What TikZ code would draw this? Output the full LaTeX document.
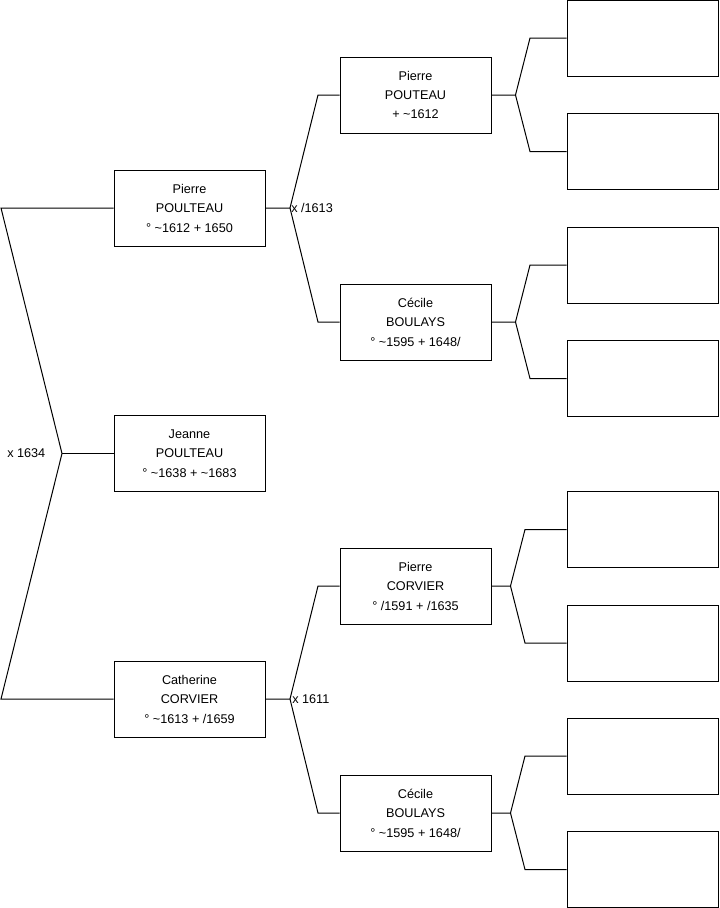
\documentclass[tikz,border=0pt]{standalone}
\usepackage{fontspec}
\setmainfont{Liberation Sans}
\newcommand{\tl}{\textasciitilde}
\begin{document}
\begin{tikzpicture}[x=0.75pt,y=-0.75pt,
  person/.style={draw=black,line width=0.75pt,rectangle,minimum width=113.25pt,minimum height=57pt,inner sep=0pt,align=center,font=\fontsize{9.5pt}{14.6pt}\selectfont},
  link/.style={draw=black,line width=0.75pt},
  mlabel/.style={anchor=west,inner sep=0pt,font=\fontsize{9.5pt}{11pt}\selectfont}]
\useasboundingbox (0,0) rectangle (719,908);
% generation 1 and 2
\node[person] (pp) at (189.5,208) {Pierre\\POULTEAU\\° \tl1612 + 1650};
\node[person] (jp) at (189.5,453.5) {Jeanne\\POULTEAU\\° \tl1638 + \tl1683};
\node[person] (cc) at (189.5,699) {Catherine\\CORVIER\\° \tl1613 + /1659};
% generation 3
\node[person] (ppou) at (415.5,95) {Pierre\\POUTEAU\\+ \tl1612};
\node[person] (cb1) at (415.5,322) {Cécile\\BOULAYS\\° \tl1595 + 1648/};
\node[person] (pc) at (415.5,586) {Pierre\\CORVIER\\° /1591 + /1635};
\node[person] (cb2) at (415.5,813) {Cécile\\BOULAYS\\° \tl1595 + 1648/};
% generation 4 (empty)
\node[person] (e1) at (642.5,38) {};
\node[person] (e2) at (642.5,151.5) {};
\node[person] (e3) at (642.5,265) {};
\node[person] (e4) at (642.5,378.5) {};
\node[person] (e5) at (642.5,529.5) {};
\node[person] (e6) at (642.5,643) {};
\node[person] (e7) at (642.5,756) {};
\node[person] (e8) at (642.5,869.5) {};
% left bracket
\coordinate (L1) at (1,208);
\coordinate (L2) at (1,699);
\coordinate (b0) at (62,453.5);
\draw[link] (pp.west) -- (L1) -- (b0) -- (L2) -- (cc.west);
\draw[link] (b0) -- (jp.west);
\node[mlabel] (m0) at (7,453) {x 1634};
% Pierre POULTEAU parents
\coordinate (b1) at (290,208);
\coordinate (b1u) at (318,95);
\coordinate (b1d) at (318,322);
\draw[link] (pp.east) -- (b1) -- (b1u) -- (ppou.west);
\draw[link] (b1) -- (b1d) -- (cb1.west);
\node[mlabel] (m1) at (291,208) {x /1613};
% Catherine parents
\coordinate (b2) at (290,699);
\coordinate (b2u) at (318,586);
\coordinate (b2d) at (318,813);
\draw[link] (cc.east) -- (b2) -- (b2u) -- (pc.west);
\draw[link] (b2) -- (b2d) -- (cb2.west);
\node[mlabel] (m2) at (292,699) {x 1611};
% generation 3 to 4
\coordinate (c1) at (515.5,95);
\coordinate (c1u) at (530,38);
\coordinate (c1d) at (530,151.5);
\draw[link] (ppou.east) -- (c1) -- (c1u) -- (e1.west);
\draw[link] (c1) -- (c1d) -- (e2.west);
\coordinate (c2) at (515.5,322);
\coordinate (c2u) at (530,265);
\coordinate (c2d) at (530,378.5);
\draw[link] (cb1.east) -- (c2) -- (c2u) -- (e3.west);
\draw[link] (c2) -- (c2d) -- (e4.west);
\coordinate (c3) at (510.5,586);
\coordinate (c3u) at (525,529.5);
\coordinate (c3d) at (525,643);
\draw[link] (pc.east) -- (c3) -- (c3u) -- (e5.west);
\draw[link] (c3) -- (c3d) -- (e6.west);
\coordinate (c4) at (510.5,813);
\coordinate (c4u) at (525,756);
\coordinate (c4d) at (525,869.5);
\draw[link] (cb2.east) -- (c4) -- (c4u) -- (e7.west);
\draw[link] (c4) -- (c4d) -- (e8.west);
\end{tikzpicture}
\end{document}
